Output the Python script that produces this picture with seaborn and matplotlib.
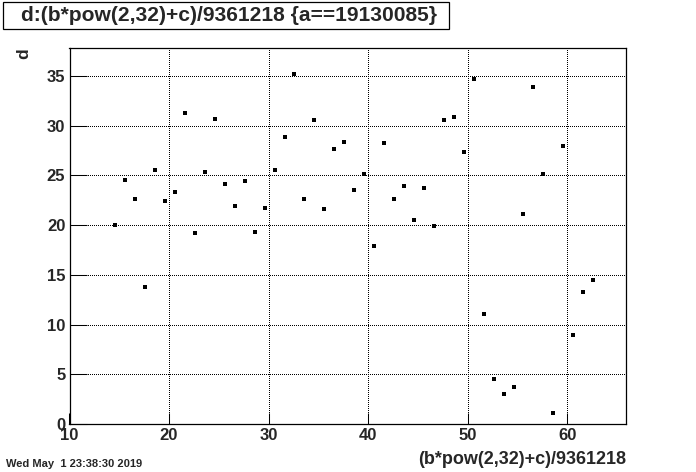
import matplotlib
matplotlib.use("Agg")
import matplotlib.pyplot as plt
from matplotlib.patches import Rectangle
from matplotlib.ticker import MultipleLocator
import numpy as np
import pandas as pd
import seaborn as sns

# values
x_vals = [14.6, 15.6, 16.6, 17.6, 18.6, 19.6, 20.6, 21.6, 22.6, 23.6,
          24.6, 25.6, 26.6, 27.6, 28.6, 29.6, 30.6, 31.6, 32.6, 33.6,
          34.6, 35.6, 36.6, 37.6, 38.6, 39.6, 40.6, 41.6, 42.6, 43.6,
          44.6, 45.6, 46.6, 47.6, 48.6, 49.6, 50.6, 51.6, 52.6, 53.6,
          54.6, 55.6, 56.6, 57.6, 58.6, 59.6, 60.6, 61.6, 62.6]
d_vals = [20.0, 24.5, 22.6, 13.8, 25.5, 22.4, 23.3, 31.3, 19.2, 25.3,
          30.7, 24.1, 21.9, 24.4, 19.3, 21.7, 25.5, 28.9, 35.2, 22.6,
          30.6, 21.6, 27.6, 28.3, 23.5, 25.1, 17.9, 28.2, 22.6, 23.9,
          20.5, 23.7, 19.9, 30.6, 30.9, 27.3, 34.7, 11.1, 4.5, 3.0,
          3.7, 21.1, 33.9, 25.1, 1.07, 27.9, 8.9, 13.3, 14.5]

title = "d:(b*pow(2,32)+c)/9361218 {a==19130085}"
x_title = "(b*pow(2,32)+c)/9361218"
y_title = "d"
stamp = "Wed May  1 23:38:30 2019"

df = pd.DataFrame({"x": x_vals, "d": d_vals})

sns.set_theme(style="white")
plt.rcParams["font.family"] = ["Liberation Sans", "DejaVu Sans"]
plt.rcParams["font.weight"] = "bold"

W, H = 696, 472
fig = plt.figure(figsize=(W / 100, H / 100), dpi=100)
fig.patch.set_facecolor("white")
ax = fig.add_axes([69.5 / W, 1 - 424 / H, (626 - 69.5) / W, (424 - 48) / H])

sns.scatterplot(data=df, x="x", y="d", marker="s", s=6, color="black",
                linewidth=0, ax=ax, legend=False)

ax.set_xlim(10, 65.9)
ax.set_ylim(0, 37.8)
ax.xaxis.set_major_locator(MultipleLocator(10))
ax.xaxis.set_minor_locator(MultipleLocator(2))
ax.yaxis.set_major_locator(MultipleLocator(5))
ax.yaxis.set_minor_locator(MultipleLocator(1))

ax.grid(True, which="major", color="black", linewidth=0.75,
        linestyle=(0, (0.96, 1.92)))
for gl in ax.get_xgridlines() + ax.get_ygridlines():
    gl.set_antialiased(False)
ax.set_axisbelow(True)

for s in ax.spines.values():
    s.set_color("black")
    s.set_linewidth(0.9)

ax.tick_params(axis="x", which="major", direction="in", length=7.9,
               width=0.75, color="black", labelsize=12, pad=3)
ax.tick_params(axis="x", which="minor", direction="in", length=4,
               width=0.75, color="black")
ax.tick_params(axis="y", which="major", direction="in", length=12.2,
               width=0.75, color="black", labelsize=12, pad=3)
ax.tick_params(axis="y", which="minor", direction="in", length=6.1,
               width=0.75, color="black")
ax.tick_params(bottom=True, left=True, top=False, right=False)
ax.set_xlabel("")
ax.set_ylabel("")

# axis titles, ROOT style
fig.text(626 / W, 1 - 460 / H, x_title, ha="right", va="center",
         fontsize=13, fontweight="bold")
fig.text(24 / W, 1 - 48 / H, y_title, ha="center", va="top",
         rotation=90, fontsize=12.5, fontweight="bold")

# title box
fig.patches.append(Rectangle((3 / W, 1 - 29 / H), (449 - 3) / W, 27 / H,
                             transform=fig.transFigure, fill=True,
                             facecolor="white", edgecolor="black",
                             linewidth=0.9))
fig.text(229 / W, 1 - 15.5 / H, title, ha="center", va="center",
         fontsize=15.1, fontweight="bold")

fig.text(6 / W, 1 - 464 / H, stamp, ha="left", va="center",
         fontsize=8, fontweight="bold")

fig.savefig("out.png", dpi=100)
